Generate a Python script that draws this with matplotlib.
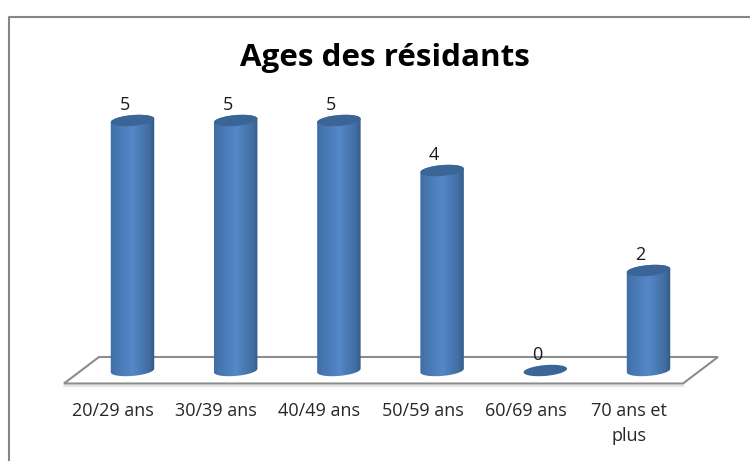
import numpy as np
import matplotlib
matplotlib.use('Agg')
import matplotlib.pyplot as plt
from matplotlib.patches import Polygon

categories = ['20/29 ans', '30/39 ans', '40/49 ans', '50/59 ans', '60/69 ans', '70 ans et\nplus']
values = [5, 5, 5, 4, 0, 2]
title = 'Ages des résidants'

W, H = 750, 461
X0, DX = 132.5, 103.2   # pixel position of first bar, bar spacing
Y0, UNIT = 370.5, 50.0  # pixel position of value 0, pixels per unit
RX, RY = 21.8, 5.4      # cylinder ellipse radii (pixels)
TILT = np.radians(5)

plt.rcParams['font.family'] = ['Open Sans', 'DejaVu Sans']

fig = plt.figure(figsize=(W / 100, H / 100), dpi=100)
ax = fig.add_axes([0, 0, 1, 1])
# one data unit on x = one category, on y = one resident
ax.set_xlim(-X0 / DX, (W - X0) / DX)
ax.set_ylim((Y0 - H) / UNIT, Y0 / UNIT)
ax.axis('off')


def ux(px):
    return px / DX


def uy(px):
    return px / UNIT


def px_point(x, y):
    return (x - X0) / DX, (Y0 - y) / UNIT


def ellipse_points(i, val, t):
    ex = RX * np.cos(t) * np.cos(TILT) + RY * np.sin(t) * np.sin(TILT)
    ey = RX * np.cos(t) * np.sin(TILT) - RY * np.sin(t) * np.cos(TILT)
    return i + ux(ex), val + uy(ey)


# frame of the chart
corners = [px_point(9, 461), px_point(9, 16.5), px_point(750, 16.5)]
ax.plot([p[0] for p in corners], [p[1] for p in corners], color='#868686', lw=1.5,
        solid_capstyle='butt', zorder=1)

# floor of the 3D plot
floor = [px_point(64, 383.5), px_point(99, 357), px_point(718, 357), px_point(683, 383.5)]
ax.add_patch(Polygon(floor, closed=True, fc='white', ec='#8c8c8c', lw=1.5, zorder=2))
shadow = [px_point(64, 385.5), px_point(683, 385.5)]
ax.plot([p[0] for p in shadow], [p[1] for p in shadow], color='#e4e4e4', lw=1.5, zorder=1)

# horizontal shading of the cylinders
stops = np.array([0.0, 0.1, 0.5, 0.88, 1.0])
reds = np.array([0x3f, 0x45, 0x55, 0x40, 0x2f])
greens = np.array([0x6d, 0x74, 0x88, 0x6c, 0x59])
blues = np.array([0xa6, 0xae, 0xc8, 0xa0, 0x85])
s = np.linspace(0, 1, 64)
shade = np.stack([np.interp(s, stops, reds), np.interp(s, stops, greens),
                  np.interp(s, stops, blues)], axis=-1)[None, :, :] / 255

t_right = np.arctan2(RY * np.sin(TILT), RX * np.cos(TILT))
t_all = np.linspace(0, 2 * np.pi, 80)
t_front = t_right + np.linspace(0, np.pi, 40)
t_back = t_front + np.pi

for i, val in enumerate(values):
    if val > 0:
        fx, fy = ellipse_points(i, 0, t_front)
        bx, by = ellipse_points(i, val, t_back)
        side = Polygon(np.column_stack([np.concatenate([fx, bx]), np.concatenate([fy, by])]),
                       closed=True, fc='none', ec='none', zorder=3)
        ax.add_patch(side)
        half = ux(RX * 1.01)
        im = ax.imshow(shade, extent=[i - half, i + half, -uy(RY + 5), val + uy(RY + 5)],
                       aspect='auto', zorder=3, interpolation='bilinear')
        im.set_clip_path(side)
    ex, ey = ellipse_points(i, val, t_all)
    ax.add_patch(Polygon(np.column_stack([ex, ey]), closed=True, fc='#3b6596', ec='none', zorder=4))
    ax.text(i - ux(8), val + uy(7), str(val), ha='center', va='bottom', fontsize=13,
            color='#1a1a1a', zorder=5)

ax.set_xlim(-X0 / DX, (W - X0) / DX)
ax.set_ylim((Y0 - H) / UNIT, Y0 / UNIT)

for i, lab in enumerate(categories):
    ax.text(i - ux(19.5), -uy(31), lab, ha='center', va='top', fontsize=13,
            color='#262626', linespacing=1.5, zorder=5)

tx_t, ty_t = px_point(384.5, 58)
ax.text(tx_t, ty_t, title, ha='center', va='center', fontsize=22.6, fontweight='bold',
        color='black', zorder=5)

fig.savefig('out.png', dpi=100)
